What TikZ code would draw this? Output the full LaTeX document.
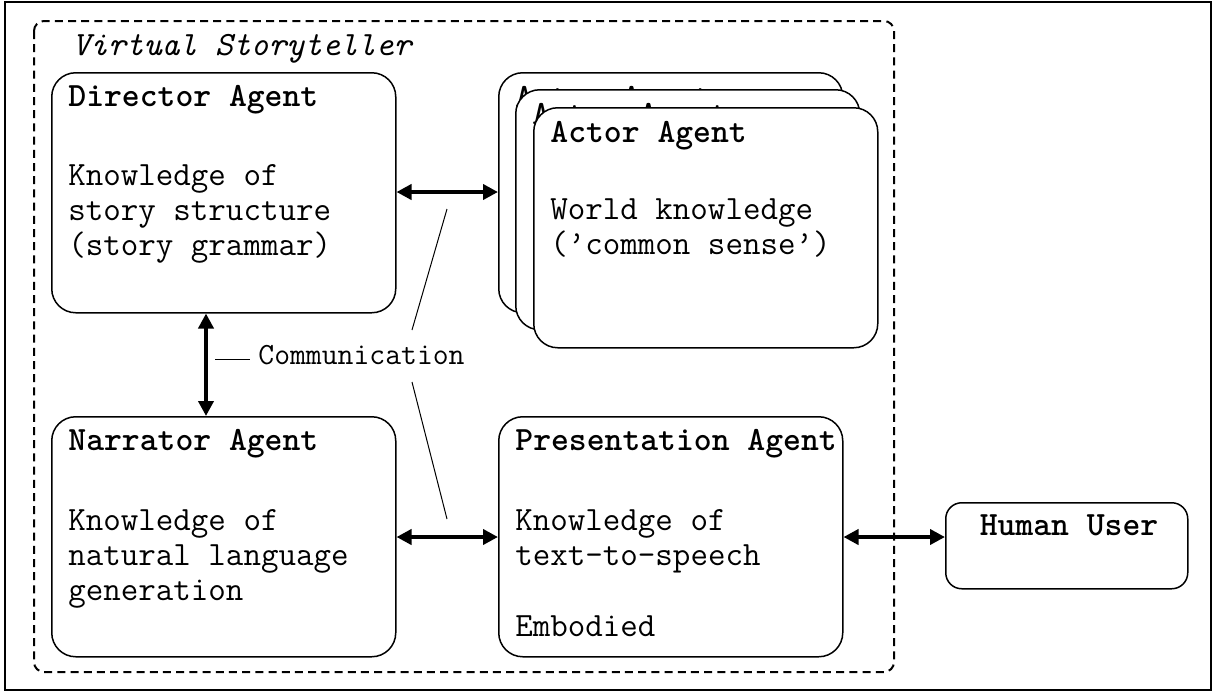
\documentclass[tikz,border=0pt]{standalone}
\usepackage{fontspec}
\usetikzlibrary{arrows.meta}

\begin{document}
\begin{tikzpicture}[x=0.5pt,y=-0.5pt,
  agent/.style={draw, line width=0.75pt, rounded corners=12pt, fill=white,
    minimum width=172pt, minimum height=120pt, anchor=north west, inner sep=0pt},
  userbox/.style={draw, line width=0.75pt, rounded corners=8pt, fill=white,
    minimum width=121pt, minimum height=43pt, anchor=north west, inner sep=0pt},
  title/.style={anchor=base west, inner sep=0pt, font=\ttfamily\fontsize{17pt}{20pt}\selectfont\bfseries},
  body/.style={anchor=base west, inner sep=0pt, font=\ttfamily\fontsize{17pt}{20pt}\selectfont},
  biarrow/.style={line width=2pt, {Triangle[length=7.5pt,width=7.5pt]}-{Triangle[length=7.5pt,width=7.5pt]}},
  lead/.style={line width=0.5pt}]

\useasboundingbox (0,0) rectangle (1212,693);

% outer frame
\draw[line width=1pt] (5,2) rectangle (1211,690);

% storyteller boundary
\draw[line width=1pt, dash pattern=on 4pt off 2.6pt, rounded corners=5pt] (34,21) rectangle (894,672);
\node[anchor=base west, inner sep=0pt, font=\ttfamily\fontsize{17pt}{20pt}\selectfont\itshape] (vs) at (72,55) {Virtual Storyteller};

% director
\node[agent] (dir) at (51,72) {};
\node[title] (dirT) at (68,106) {Director Agent};
\node[body] (dir1) at (68,185) {Knowledge of};
\node[body] (dir2) at (68,220) {story structure};
\node[body] (dir3) at (68,255) {(story grammar)};

% actor stack, back to front
\node[agent] (actA) at (498,72) {};
\node[title] (actAT) at (515,107) {Actor Agent};
\node[agent] (actB) at (515,89) {};
\node[title] (actBT) at (532,124) {Actor Agent};
\node[agent] (actC) at (533,107) {};
\node[title] (actCT) at (550,142) {Actor Agent};
\node[body] (act1) at (550,219) {World knowledge};
\node[body] (act2) at (550,254) {(’common sense’)};

% narrator
\node[agent] (nar) at (51,416) {};
\node[title] (narT) at (68,450) {Narrator Agent};
\node[body] (nar1) at (68,530) {Knowledge of};
\node[body] (nar2) at (68,565) {natural language};
\node[body] (nar3) at (68,600) {generation};

% presentation
\node[agent] (pre) at (498,416) {};
\node[title] (preT) at (515,450) {Presentation Agent};
\node[body] (pre1) at (515,530) {Knowledge of};
\node[body] (pre2) at (515,565) {text-to-speech};
\node[body] (pre3) at (515,636) {Embodied};

% user
\node[userbox] (usr) at (945,502) {};
\node[anchor=base, inner sep=0pt, font=\ttfamily\fontsize{17pt}{20pt}\selectfont\bfseries] (usrT) at (1069,535) {Human User};

% communication channels
\draw[biarrow] (dir.east |- 0,192) -- (actA.west |- 0,192);
\draw[biarrow] (dir.south -| 206,0) -- (nar.north -| 206,0);
\draw[biarrow] (nar.east |- 0,537) -- (pre.west |- 0,537);
\draw[biarrow] (pre.east |- 0,537) -- (usr.west |- 0,537);

% communication label and its leaders
\node[anchor=base west, inner sep=0pt, font=\ttfamily\fontsize{15.4pt}{18pt}\selectfont] (comm) at (258,364) {Communication};
\coordinate (cL) at (215,359);
\coordinate (cU1) at (412,330);
\coordinate (cU2) at (447,209);
\coordinate (cD1) at (412,382);
\coordinate (cD2) at (447,519);
\draw[lead] (cL) -- (cL -| 250,0);
\draw[lead] (cU1) -- (cU2);
\draw[lead] (cD1) -- (cD2);

\end{tikzpicture}
\end{document}
